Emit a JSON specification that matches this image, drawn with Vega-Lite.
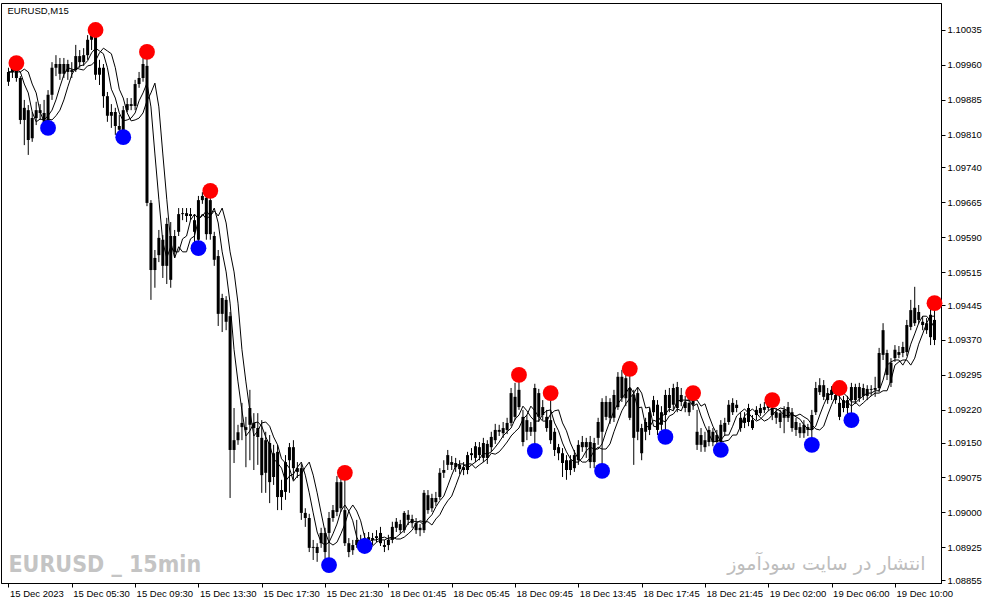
{
"$schema":"https://vega.github.io/schema/vega-lite/v6.json",
"width":940,"height":580,
"autosize":{"type":"none"},
"padding":{"left":1,"top":3,"right":46,"bottom":22},
"background":"white",
"config":{"view":{"stroke":"black","strokeWidth":1},"axis":{"grid":false,"domainColor":"black","tickColor":"black","labelColor":"black","labelFont":"Liberation Sans","labelFontSize":9.5,"tickSize":4,"tickWidth":1,"domainWidth":1,"title":null,"labelOverlap":false,"labelSeparation":0,"labelBound":false,"labelFlush":false}},
"datasets":{
"bars":[
{"i":0,"o":1.09924,"h":1.09954,"l":1.09915,"c":1.09945,"m1":1.09945,"m2":1.09945},
{"i":1,"o":1.09945,"h":1.09960,"l":1.09932,"c":1.09958,"m1":1.09945,"m2":1.09945},
{"i":2,"o":1.09958,"h":1.09964,"l":1.09924,"c":1.09932,"m1":1.09951,"m2":1.09945},
{"i":3,"o":1.09932,"h":1.09936,"l":1.09833,"c":1.09842,"m1":1.09945,"m2":1.09945},
{"i":4,"o":1.09842,"h":1.09885,"l":1.09788,"c":1.09868,"m1":1.09919,"m2":1.09951},
{"i":5,"o":1.09863,"h":1.09874,"l":1.09767,"c":1.09799,"m1":1.09900,"m2":1.09945},
{"i":6,"o":1.09803,"h":1.09859,"l":1.09795,"c":1.09846,"m1":1.09859,"m2":1.09919},
{"i":7,"o":1.09846,"h":1.09881,"l":1.09831,"c":1.09863,"m1":1.09838,"m2":1.09900},
{"i":8,"o":1.09863,"h":1.09876,"l":1.09842,"c":1.09857,"m1":1.09844,"m2":1.09859},
{"i":9,"o":1.09857,"h":1.09885,"l":1.09829,"c":1.09838,"m1":1.09842,"m2":1.09838},
{"i":10,"o":1.09838,"h":1.09906,"l":1.09825,"c":1.09896,"m1":1.09851,"m2":1.09844},
{"i":11,"o":1.09896,"h":1.09966,"l":1.09885,"c":1.09954,"m1":1.09863,"m2":1.09842},
{"i":12,"o":1.09954,"h":1.09981,"l":1.09936,"c":1.09962,"m1":1.09885,"m2":1.09851},
{"i":13,"o":1.09962,"h":1.09975,"l":1.09928,"c":1.09941,"m1":1.09913,"m2":1.09863},
{"i":14,"o":1.09941,"h":1.09975,"l":1.09932,"c":1.09962,"m1":1.09939,"m2":1.09885},
{"i":15,"o":1.09962,"h":1.09971,"l":1.09928,"c":1.09945,"m1":1.09954,"m2":1.09913},
{"i":16,"o":1.09945,"h":1.09966,"l":1.09932,"c":1.09949,"m1":1.09951,"m2":1.09939},
{"i":17,"o":1.09949,"h":1.10003,"l":1.09945,"c":1.09979,"m1":1.09949,"m2":1.09954},
{"i":18,"o":1.09979,"h":1.09992,"l":1.09954,"c":1.09966,"m1":1.09958,"m2":1.09951},
{"i":19,"o":1.09966,"h":1.09996,"l":1.09958,"c":1.09981,"m1":1.09960,"m2":1.09949},
{"i":20,"o":1.09981,"h":1.10024,"l":1.09971,"c":1.10014,"m1":1.09969,"m2":1.09958},
{"i":21,"o":1.10014,"h":1.10031,"l":1.09992,"c":1.10026,"m1":1.09986,"m2":1.09960},
{"i":22,"o":1.10024,"h":1.10035,"l":1.09928,"c":1.09939,"m1":1.09996,"m2":1.09969},
{"i":23,"o":1.09939,"h":1.09971,"l":1.09917,"c":1.09954,"m1":1.09990,"m2":1.09986},
{"i":24,"o":1.09954,"h":1.09962,"l":1.09868,"c":1.09893,"m1":1.09984,"m2":1.09996},
{"i":25,"o":1.09893,"h":1.09902,"l":1.09838,"c":1.09851,"m1":1.09954,"m2":1.09990},
{"i":26,"o":1.09851,"h":1.09876,"l":1.09825,"c":1.09859,"m1":1.09908,"m2":1.09984},
{"i":27,"o":1.09859,"h":1.09868,"l":1.09810,"c":1.09829,"m1":1.09889,"m2":1.09954},
{"i":28,"o":1.09829,"h":1.09853,"l":1.09812,"c":1.09821,"m1":1.09857,"m2":1.09908},
{"i":29,"o":1.09816,"h":1.09872,"l":1.09805,"c":1.09863,"m1":1.09840,"m2":1.09889},
{"i":30,"o":1.09863,"h":1.09889,"l":1.09859,"c":1.09876,"m1":1.09842,"m2":1.09857},
{"i":31,"o":1.09876,"h":1.09889,"l":1.09863,"c":1.09872,"m1":1.09846,"m2":1.09840},
{"i":32,"o":1.09872,"h":1.09928,"l":1.09863,"c":1.09919,"m1":1.09857,"m2":1.09842},
{"i":33,"o":1.09919,"h":1.09945,"l":1.09911,"c":1.09932,"m1":1.09883,"m2":1.09846},
{"i":34,"o":1.09932,"h":1.09975,"l":1.09924,"c":1.09962,"m1":1.09900,"m2":1.09857},
{"i":35,"o":1.09958,"h":1.09988,"l":1.09657,"c":1.09664,"m1":1.09921,"m2":1.09883},
{"i":36,"o":1.09664,"h":1.09670,"l":1.09456,"c":1.09520,"m1":1.09870,"m2":1.09900},
{"i":37,"o":1.09520,"h":1.09563,"l":1.09482,"c":1.09546,"m1":1.09769,"m2":1.09921},
{"i":38,"o":1.09552,"h":1.09606,"l":1.09537,"c":1.09589,"m1":1.09672,"m2":1.09870},
{"i":39,"o":1.09585,"h":1.09595,"l":1.09503,"c":1.09529,"m1":1.09580,"m2":1.09769},
{"i":40,"o":1.09529,"h":1.09632,"l":1.09490,"c":1.09619,"m1":1.09546,"m2":1.09672},
{"i":41,"o":1.09593,"h":1.09623,"l":1.09482,"c":1.09499,"m1":1.09570,"m2":1.09580},
{"i":42,"o":1.09559,"h":1.09606,"l":1.09546,"c":1.09593,"m1":1.09559,"m2":1.09546},
{"i":43,"o":1.09602,"h":1.09653,"l":1.09593,"c":1.09640,"m1":1.09559,"m2":1.09570},
{"i":44,"o":1.09640,"h":1.09653,"l":1.09627,"c":1.09642,"m1":1.09587,"m2":1.09559},
{"i":45,"o":1.09642,"h":1.09653,"l":1.09623,"c":1.09636,"m1":1.09593,"m2":1.09559},
{"i":46,"o":1.09636,"h":1.09653,"l":1.09627,"c":1.09640,"m1":1.09627,"m2":1.09587},
{"i":47,"o":1.09627,"h":1.09640,"l":1.09580,"c":1.09602,"m1":1.09640,"m2":1.09593},
{"i":48,"o":1.09585,"h":1.09679,"l":1.09567,"c":1.09670,"m1":1.09630,"m2":1.09627},
{"i":49,"o":1.09670,"h":1.09687,"l":1.09662,"c":1.09679,"m1":1.09636,"m2":1.09640},
{"i":50,"o":1.09675,"h":1.09683,"l":1.09585,"c":1.09597,"m1":1.09647,"m2":1.09630},
{"i":51,"o":1.09597,"h":1.09690,"l":1.09585,"c":1.09670,"m1":1.09636,"m2":1.09636},
{"i":52,"o":1.09593,"h":1.09602,"l":1.09529,"c":1.09542,"m1":1.09653,"m2":1.09647},
{"i":53,"o":1.09550,"h":1.09563,"l":1.09400,"c":1.09426,"m1":1.09621,"m2":1.09636},
{"i":54,"o":1.09460,"h":1.09469,"l":1.09387,"c":1.09426,"m1":1.09559,"m2":1.09653},
{"i":55,"o":1.09456,"h":1.09464,"l":1.09391,"c":1.09409,"m1":1.09516,"m2":1.09621},
{"i":56,"o":1.09421,"h":1.09430,"l":1.09031,"c":1.09134,"m1":1.09449,"m2":1.09559},
{"i":57,"o":1.09134,"h":1.09224,"l":1.09106,"c":1.09155,"m1":1.09349,"m2":1.09516},
{"i":58,"o":1.09155,"h":1.09188,"l":1.09145,"c":1.09172,"m1":1.09280,"m2":1.09449},
{"i":59,"o":1.09183,"h":1.09235,"l":1.09155,"c":1.09192,"m1":1.09218,"m2":1.09349},
{"i":60,"o":1.09183,"h":1.09205,"l":1.09097,"c":1.09177,"m1":1.09164,"m2":1.09280},
{"i":61,"o":1.09188,"h":1.09263,"l":1.09112,"c":1.09224,"m1":1.09175,"m2":1.09218},
{"i":62,"o":1.09192,"h":1.09213,"l":1.09091,"c":1.09181,"m1":1.09192,"m2":1.09164},
{"i":63,"o":1.09181,"h":1.09213,"l":1.09102,"c":1.09162,"m1":1.09194,"m2":1.09175},
{"i":64,"o":1.09160,"h":1.09198,"l":1.09042,"c":1.09080,"m1":1.09185,"m2":1.09192},
{"i":65,"o":1.09085,"h":1.09173,"l":1.09042,"c":1.09155,"m1":1.09162,"m2":1.09194},
{"i":66,"o":1.09149,"h":1.09166,"l":1.09020,"c":1.09065,"m1":1.09145,"m2":1.09185},
{"i":67,"o":1.09076,"h":1.09145,"l":1.09059,"c":1.09127,"m1":1.09115,"m2":1.09162},
{"i":68,"o":1.09130,"h":1.09145,"l":1.09005,"c":1.09033,"m1":1.09106,"m2":1.09145},
{"i":69,"o":1.09033,"h":1.09070,"l":1.09005,"c":1.09048,"m1":1.09095,"m2":1.09115},
{"i":70,"o":1.09044,"h":1.09123,"l":1.09027,"c":1.09108,"m1":1.09067,"m2":1.09106},
{"i":71,"o":1.09112,"h":1.09149,"l":1.09042,"c":1.09140,"m1":1.09078,"m2":1.09095},
{"i":72,"o":1.09140,"h":1.09155,"l":1.09070,"c":1.09095,"m1":1.09082,"m2":1.09067},
{"i":73,"o":1.09095,"h":1.09108,"l":1.09074,"c":1.09087,"m1":1.09097,"m2":1.09078},
{"i":74,"o":1.09095,"h":1.09104,"l":1.08984,"c":1.08999,"m1":1.09108,"m2":1.09082},
{"i":75,"o":1.08999,"h":1.09009,"l":1.08969,"c":1.08988,"m1":1.09080,"m2":1.09097},
{"i":76,"o":1.08988,"h":1.08997,"l":1.08915,"c":1.08924,"m1":1.09042,"m2":1.09108},
{"i":77,"o":1.08924,"h":1.08941,"l":1.08898,"c":1.08926,"m1":1.08999,"m2":1.09080},
{"i":78,"o":1.08926,"h":1.08934,"l":1.08894,"c":1.08913,"m1":1.08958,"m2":1.09042},
{"i":79,"o":1.08934,"h":1.08967,"l":1.08924,"c":1.08956,"m1":1.08936,"m2":1.08999},
{"i":80,"o":1.08915,"h":1.08967,"l":1.08898,"c":1.08956,"m1":1.08930,"m2":1.08958},
{"i":81,"o":1.08956,"h":1.09001,"l":1.08887,"c":1.08988,"m1":1.08936,"m2":1.08936},
{"i":82,"o":1.08988,"h":1.09016,"l":1.08980,"c":1.09005,"m1":1.08954,"m2":1.08930},
{"i":83,"o":1.09001,"h":1.09078,"l":1.08992,"c":1.09065,"m1":1.08975,"m2":1.08936},
{"i":84,"o":1.09065,"h":1.09074,"l":1.09001,"c":1.09009,"m1":1.09003,"m2":1.08954},
{"i":85,"o":1.09005,"h":1.09085,"l":1.08928,"c":1.08934,"m1":1.09016,"m2":1.08975},
{"i":86,"o":1.08934,"h":1.08945,"l":1.08904,"c":1.08915,"m1":1.09003,"m2":1.09003},
{"i":87,"o":1.08919,"h":1.08941,"l":1.08909,"c":1.08930,"m1":1.08982,"m2":1.09016},
{"i":88,"o":1.08930,"h":1.08984,"l":1.08924,"c":1.08941,"m1":1.08947,"m2":1.09003},
{"i":89,"o":1.08941,"h":1.08952,"l":1.08922,"c":1.08930,"m1":1.08930,"m2":1.08982},
{"i":90,"o":1.08930,"h":1.08956,"l":1.08928,"c":1.08945,"m1":1.08928,"m2":1.08947},
{"i":91,"o":1.08941,"h":1.08958,"l":1.08930,"c":1.08947,"m1":1.08936,"m2":1.08930},
{"i":92,"o":1.08945,"h":1.08956,"l":1.08930,"c":1.08941,"m1":1.08941,"m2":1.08928},
{"i":93,"o":1.08945,"h":1.08962,"l":1.08936,"c":1.08949,"m1":1.08941,"m2":1.08936},
{"i":94,"o":1.08934,"h":1.08969,"l":1.08928,"c":1.08956,"m1":1.08945,"m2":1.08941},
{"i":95,"o":1.08930,"h":1.08941,"l":1.08915,"c":1.08926,"m1":1.08947,"m2":1.08941},
{"i":96,"o":1.08930,"h":1.08952,"l":1.08919,"c":1.08941,"m1":1.08943,"m2":1.08945},
{"i":97,"o":1.08941,"h":1.08980,"l":1.08934,"c":1.08969,"m1":1.08943,"m2":1.08947},
{"i":98,"o":1.08967,"h":1.08988,"l":1.08958,"c":1.08980,"m1":1.08947,"m2":1.08943},
{"i":99,"o":1.08975,"h":1.08984,"l":1.08954,"c":1.08962,"m1":1.08954,"m2":1.08943},
{"i":100,"o":1.08962,"h":1.09003,"l":1.08956,"c":1.08999,"m1":1.08962,"m2":1.08947},
{"i":101,"o":1.08995,"h":1.09005,"l":1.08973,"c":1.08984,"m1":1.08977,"m2":1.08954},
{"i":102,"o":1.08986,"h":1.08995,"l":1.08967,"c":1.08977,"m1":1.08982,"m2":1.08962},
{"i":103,"o":1.08977,"h":1.08988,"l":1.08954,"c":1.08962,"m1":1.08980,"m2":1.08977},
{"i":104,"o":1.08962,"h":1.08975,"l":1.08949,"c":1.08967,"m1":1.08980,"m2":1.08982},
{"i":105,"o":1.08962,"h":1.09048,"l":1.08956,"c":1.09042,"m1":1.08973,"m2":1.08980},
{"i":106,"o":1.09037,"h":1.09048,"l":1.08997,"c":1.09005,"m1":1.08986,"m2":1.08980},
{"i":107,"o":1.09009,"h":1.09040,"l":1.09001,"c":1.09031,"m1":1.08995,"m2":1.08973},
{"i":108,"o":1.09031,"h":1.09044,"l":1.09014,"c":1.09022,"m1":1.09012,"m2":1.08986},
{"i":109,"o":1.09033,"h":1.09095,"l":1.09027,"c":1.09085,"m1":1.09025,"m2":1.08995},
{"i":110,"o":1.09085,"h":1.09112,"l":1.09074,"c":1.09091,"m1":1.09035,"m2":1.09012},
{"i":111,"o":1.09102,"h":1.09134,"l":1.09091,"c":1.09123,"m1":1.09057,"m2":1.09025},
{"i":112,"o":1.09108,"h":1.09121,"l":1.09091,"c":1.09102,"m1":1.09080,"m2":1.09035},
{"i":113,"o":1.09106,"h":1.09117,"l":1.09087,"c":1.09097,"m1":1.09100,"m2":1.09057},
{"i":114,"o":1.09102,"h":1.09112,"l":1.09082,"c":1.09093,"m1":1.09104,"m2":1.09080},
{"i":115,"o":1.09097,"h":1.09108,"l":1.09080,"c":1.09091,"m1":1.09104,"m2":1.09100},
{"i":116,"o":1.09091,"h":1.09130,"l":1.09082,"c":1.09123,"m1":1.09095,"m2":1.09104},
{"i":117,"o":1.09123,"h":1.09138,"l":1.09112,"c":1.09127,"m1":1.09102,"m2":1.09104},
{"i":118,"o":1.09142,"h":1.09151,"l":1.09108,"c":1.09117,"m1":1.09108,"m2":1.09095},
{"i":119,"o":1.09123,"h":1.09151,"l":1.09112,"c":1.09140,"m1":1.09115,"m2":1.09102},
{"i":120,"o":1.09149,"h":1.09160,"l":1.09108,"c":1.09117,"m1":1.09127,"m2":1.09108},
{"i":121,"o":1.09117,"h":1.09155,"l":1.09104,"c":1.09147,"m1":1.09125,"m2":1.09115},
{"i":122,"o":1.09140,"h":1.09173,"l":1.09130,"c":1.09162,"m1":1.09130,"m2":1.09127},
{"i":123,"o":1.09155,"h":1.09190,"l":1.09147,"c":1.09177,"m1":1.09140,"m2":1.09125},
{"i":124,"o":1.09177,"h":1.09188,"l":1.09164,"c":1.09173,"m1":1.09151,"m2":1.09130},
{"i":125,"o":1.09170,"h":1.09194,"l":1.09160,"c":1.09181,"m1":1.09164,"m2":1.09140},
{"i":126,"o":1.09177,"h":1.09203,"l":1.09168,"c":1.09192,"m1":1.09173,"m2":1.09151},
{"i":127,"o":1.09192,"h":1.09267,"l":1.09185,"c":1.09256,"m1":1.09181,"m2":1.09164},
{"i":128,"o":1.09248,"h":1.09278,"l":1.09198,"c":1.09205,"m1":1.09200,"m2":1.09173},
{"i":129,"o":1.09226,"h":1.09295,"l":1.09220,"c":1.09263,"m1":1.09209,"m2":1.09181},
{"i":130,"o":1.09205,"h":1.09220,"l":1.09142,"c":1.09151,"m1":1.09228,"m2":1.09200},
{"i":131,"o":1.09173,"h":1.09209,"l":1.09155,"c":1.09198,"m1":1.09218,"m2":1.09209},
{"i":132,"o":1.09183,"h":1.09194,"l":1.09164,"c":1.09173,"m1":1.09205,"m2":1.09228},
{"i":133,"o":1.09173,"h":1.09276,"l":1.09132,"c":1.09267,"m1":1.09196,"m2":1.09218},
{"i":134,"o":1.09256,"h":1.09265,"l":1.09194,"c":1.09205,"m1":1.09196,"m2":1.09205},
{"i":135,"o":1.09209,"h":1.09241,"l":1.09198,"c":1.09226,"m1":1.09211,"m2":1.09196},
{"i":136,"o":1.09205,"h":1.09220,"l":1.09173,"c":1.09181,"m1":1.09218,"m2":1.09196},
{"i":137,"o":1.09198,"h":1.09256,"l":1.09147,"c":1.09155,"m1":1.09220,"m2":1.09211},
{"i":138,"o":1.09173,"h":1.09181,"l":1.09121,"c":1.09134,"m1":1.09192,"m2":1.09218},
{"i":139,"o":1.09140,"h":1.09147,"l":1.09112,"c":1.09127,"m1":1.09175,"m2":1.09220},
{"i":140,"o":1.09127,"h":1.09138,"l":1.09076,"c":1.09106,"m1":1.09149,"m2":1.09192},
{"i":141,"o":1.09112,"h":1.09123,"l":1.09070,"c":1.09091,"m1":1.09130,"m2":1.09175},
{"i":142,"o":1.09091,"h":1.09123,"l":1.09080,"c":1.09112,"m1":1.09115,"m2":1.09149},
{"i":143,"o":1.09095,"h":1.09134,"l":1.09087,"c":1.09123,"m1":1.09108,"m2":1.09130},
{"i":144,"o":1.09112,"h":1.09155,"l":1.09102,"c":1.09145,"m1":1.09108,"m2":1.09115},
{"i":145,"o":1.09140,"h":1.09164,"l":1.09130,"c":1.09151,"m1":1.09117,"m2":1.09108},
{"i":146,"o":1.09151,"h":1.09160,"l":1.09117,"c":1.09140,"m1":1.09132,"m2":1.09108},
{"i":147,"o":1.09151,"h":1.09164,"l":1.09095,"c":1.09108,"m1":1.09140,"m2":1.09117},
{"i":148,"o":1.09108,"h":1.09160,"l":1.09095,"c":1.09149,"m1":1.09136,"m2":1.09132},
{"i":149,"o":1.09160,"h":1.09203,"l":1.09145,"c":1.09194,"m1":1.09136,"m2":1.09140},
{"i":150,"o":1.09173,"h":1.09245,"l":1.09089,"c":1.09237,"m1":1.09147,"m2":1.09136},
{"i":151,"o":1.09237,"h":1.09250,"l":1.09198,"c":1.09205,"m1":1.09173,"m2":1.09136},
{"i":152,"o":1.09203,"h":1.09245,"l":1.09190,"c":1.09237,"m1":1.09196,"m2":1.09147},
{"i":153,"o":1.09203,"h":1.09263,"l":1.09194,"c":1.09252,"m1":1.09218,"m2":1.09173},
{"i":154,"o":1.09226,"h":1.09301,"l":1.09220,"c":1.09291,"m1":1.09233,"m2":1.09196},
{"i":155,"o":1.09291,"h":1.09306,"l":1.09237,"c":1.09245,"m1":1.09245,"m2":1.09218},
{"i":156,"o":1.09245,"h":1.09301,"l":1.09228,"c":1.09288,"m1":1.09256,"m2":1.09233},
{"i":157,"o":1.09267,"h":1.09308,"l":1.09198,"c":1.09203,"m1":1.09269,"m2":1.09245},
{"i":158,"o":1.09252,"h":1.09263,"l":1.09102,"c":1.09160,"m1":1.09256,"m2":1.09256},
{"i":159,"o":1.09173,"h":1.09267,"l":1.09155,"c":1.09256,"m1":1.09224,"m2":1.09269},
{"i":160,"o":1.09181,"h":1.09190,"l":1.09112,"c":1.09127,"m1":1.09226,"m2":1.09256},
{"i":161,"o":1.09173,"h":1.09203,"l":1.09155,"c":1.09194,"m1":1.09185,"m2":1.09224},
{"i":162,"o":1.09177,"h":1.09224,"l":1.09166,"c":1.09215,"m1":1.09183,"m2":1.09226},
{"i":163,"o":1.09215,"h":1.09250,"l":1.09207,"c":1.09241,"m1":1.09198,"m2":1.09185},
{"i":164,"o":1.09231,"h":1.09241,"l":1.09166,"c":1.09177,"m1":1.09194,"m2":1.09183},
{"i":165,"o":1.09188,"h":1.09228,"l":1.09177,"c":1.09215,"m1":1.09207,"m2":1.09198},
{"i":166,"o":1.09209,"h":1.09263,"l":1.09162,"c":1.09252,"m1":1.09211,"m2":1.09194},
{"i":167,"o":1.09252,"h":1.09267,"l":1.09215,"c":1.09224,"m1":1.09222,"m2":1.09207},
{"i":168,"o":1.09231,"h":1.09276,"l":1.09220,"c":1.09267,"m1":1.09218,"m2":1.09211},
{"i":169,"o":1.09269,"h":1.09280,"l":1.09215,"c":1.09224,"m1":1.09239,"m2":1.09222},
{"i":170,"o":1.09237,"h":1.09267,"l":1.09228,"c":1.09252,"m1":1.09241,"m2":1.09218},
{"i":171,"o":1.09237,"h":1.09250,"l":1.09215,"c":1.09224,"m1":1.09241,"m2":1.09239},
{"i":172,"o":1.09235,"h":1.09245,"l":1.09207,"c":1.09215,"m1":1.09241,"m2":1.09241},
{"i":173,"o":1.09231,"h":1.09256,"l":1.09220,"c":1.09241,"m1":1.09228,"m2":1.09241},
{"i":174,"o":1.09173,"h":1.09220,"l":1.09134,"c":1.09145,"m1":1.09233,"m2":1.09241},
{"i":175,"o":1.09166,"h":1.09181,"l":1.09130,"c":1.09145,"m1":1.09207,"m2":1.09228},
{"i":176,"o":1.09155,"h":1.09173,"l":1.09130,"c":1.09140,"m1":1.09185,"m2":1.09233},
{"i":177,"o":1.09151,"h":1.09185,"l":1.09142,"c":1.09177,"m1":1.09168,"m2":1.09207},
{"i":178,"o":1.09173,"h":1.09181,"l":1.09142,"c":1.09151,"m1":1.09151,"m2":1.09185},
{"i":179,"o":1.09166,"h":1.09177,"l":1.09142,"c":1.09151,"m1":1.09153,"m2":1.09168},
{"i":180,"o":1.09151,"h":1.09198,"l":1.09134,"c":1.09188,"m1":1.09155,"m2":1.09151},
{"i":181,"o":1.09192,"h":1.09203,"l":1.09164,"c":1.09173,"m1":1.09166,"m2":1.09153},
{"i":182,"o":1.09194,"h":1.09241,"l":1.09188,"c":1.09231,"m1":1.09166,"m2":1.09155},
{"i":183,"o":1.09215,"h":1.09245,"l":1.09209,"c":1.09235,"m1":1.09185,"m2":1.09166},
{"i":184,"o":1.09231,"h":1.09241,"l":1.09215,"c":1.09224,"m1":1.09207,"m2":1.09166},
{"i":185,"o":1.09181,"h":1.09215,"l":1.09173,"c":1.09203,"m1":1.09215,"m2":1.09185},
{"i":186,"o":1.09203,"h":1.09215,"l":1.09181,"c":1.09192,"m1":1.09222,"m2":1.09207},
{"i":187,"o":1.09224,"h":1.09233,"l":1.09185,"c":1.09194,"m1":1.09213,"m2":1.09215},
{"i":188,"o":1.09181,"h":1.09209,"l":1.09177,"c":1.09198,"m1":1.09203,"m2":1.09222},
{"i":189,"o":1.09209,"h":1.09228,"l":1.09198,"c":1.09220,"m1":1.09196,"m2":1.09213},
{"i":190,"o":1.09213,"h":1.09233,"l":1.09207,"c":1.09224,"m1":1.09200,"m2":1.09203},
{"i":191,"o":1.09220,"h":1.09237,"l":1.09213,"c":1.09226,"m1":1.09209,"m2":1.09196},
{"i":192,"o":1.09224,"h":1.09237,"l":1.09218,"c":1.09231,"m1":1.09218,"m2":1.09200},
{"i":193,"o":1.09224,"h":1.09241,"l":1.09198,"c":1.09209,"m1":1.09224,"m2":1.09209},
{"i":194,"o":1.09215,"h":1.09224,"l":1.09190,"c":1.09203,"m1":1.09222,"m2":1.09218},
{"i":195,"o":1.09213,"h":1.09220,"l":1.09181,"c":1.09194,"m1":1.09218,"m2":1.09224},
{"i":196,"o":1.09203,"h":1.09228,"l":1.09170,"c":1.09220,"m1":1.09209,"m2":1.09222},
{"i":197,"o":1.09203,"h":1.09237,"l":1.09194,"c":1.09226,"m1":1.09207,"m2":1.09218},
{"i":198,"o":1.09215,"h":1.09224,"l":1.09173,"c":1.09181,"m1":1.09211,"m2":1.09209},
{"i":199,"o":1.09194,"h":1.09203,"l":1.09164,"c":1.09177,"m1":1.09205,"m2":1.09207},
{"i":200,"o":1.09183,"h":1.09192,"l":1.09160,"c":1.09170,"m1":1.09200,"m2":1.09211},
{"i":201,"o":1.09170,"h":1.09198,"l":1.09160,"c":1.09188,"m1":1.09188,"m2":1.09205},
{"i":202,"o":1.09183,"h":1.09190,"l":1.09164,"c":1.09177,"m1":1.09179,"m2":1.09200},
{"i":203,"o":1.09177,"h":1.09220,"l":1.09145,"c":1.09209,"m1":1.09177,"m2":1.09188},
{"i":204,"o":1.09215,"h":1.09280,"l":1.09209,"c":1.09267,"m1":1.09185,"m2":1.09179},
{"i":205,"o":1.09258,"h":1.09288,"l":1.09252,"c":1.09273,"m1":1.09209,"m2":1.09177},
{"i":206,"o":1.09273,"h":1.09284,"l":1.09241,"c":1.09248,"m1":1.09231,"m2":1.09185},
{"i":207,"o":1.09256,"h":1.09267,"l":1.09233,"c":1.09241,"m1":1.09250,"m2":1.09209},
{"i":208,"o":1.09252,"h":1.09271,"l":1.09241,"c":1.09263,"m1":1.09256,"m2":1.09231},
{"i":209,"o":1.09252,"h":1.09263,"l":1.09233,"c":1.09241,"m1":1.09256,"m2":1.09250},
{"i":210,"o":1.09235,"h":1.09267,"l":1.09198,"c":1.09205,"m1":1.09248,"m2":1.09256},
{"i":211,"o":1.09224,"h":1.09250,"l":1.09215,"c":1.09241,"m1":1.09237,"m2":1.09256},
{"i":212,"o":1.09241,"h":1.09250,"l":1.09207,"c":1.09224,"m1":1.09237,"m2":1.09248},
{"i":213,"o":1.09241,"h":1.09278,"l":1.09198,"c":1.09269,"m1":1.09228,"m2":1.09237},
{"i":214,"o":1.09269,"h":1.09276,"l":1.09233,"c":1.09241,"m1":1.09235,"m2":1.09237},
{"i":215,"o":1.09245,"h":1.09278,"l":1.09237,"c":1.09269,"m1":1.09243,"m2":1.09228},
{"i":216,"o":1.09267,"h":1.09276,"l":1.09241,"c":1.09250,"m1":1.09250,"m2":1.09235},
{"i":217,"o":1.09250,"h":1.09273,"l":1.09241,"c":1.09265,"m1":1.09256,"m2":1.09243},
{"i":218,"o":1.09265,"h":1.09273,"l":1.09250,"c":1.09263,"m1":1.09256,"m2":1.09250},
{"i":219,"o":1.09263,"h":1.09291,"l":1.09248,"c":1.09267,"m1":1.09261,"m2":1.09256},
{"i":220,"o":1.09267,"h":1.09353,"l":1.09258,"c":1.09342,"m1":1.09261,"m2":1.09256},
{"i":221,"o":1.09338,"h":1.09406,"l":1.09327,"c":1.09391,"m1":1.09284,"m2":1.09261},
{"i":222,"o":1.09342,"h":1.09349,"l":1.09284,"c":1.09295,"m1":1.09316,"m2":1.09261},
{"i":223,"o":1.09321,"h":1.09331,"l":1.09269,"c":1.09278,"m1":1.09323,"m2":1.09284},
{"i":224,"o":1.09331,"h":1.09359,"l":1.09323,"c":1.09349,"m1":1.09327,"m2":1.09316},
{"i":225,"o":1.09338,"h":1.09357,"l":1.09331,"c":1.09344,"m1":1.09327,"m2":1.09323},
{"i":226,"o":1.09342,"h":1.09366,"l":1.09333,"c":1.09355,"m1":1.09316,"m2":1.09327},
{"i":227,"o":1.09344,"h":1.09413,"l":1.09336,"c":1.09402,"m1":1.09331,"m2":1.09327},
{"i":228,"o":1.09398,"h":1.09456,"l":1.09391,"c":1.09434,"m1":1.09361,"m2":1.09316},
{"i":229,"o":1.09406,"h":1.09484,"l":1.09400,"c":1.09439,"m1":1.09383,"m2":1.09331},
{"i":230,"o":1.09430,"h":1.09445,"l":1.09404,"c":1.09413,"m1":1.09406,"m2":1.09361},
{"i":231,"o":1.09409,"h":1.09421,"l":1.09391,"c":1.09402,"m1":1.09421,"m2":1.09383},
{"i":232,"o":1.09406,"h":1.09417,"l":1.09383,"c":1.09391,"m1":1.09421,"m2":1.09406},
{"i":233,"o":1.09424,"h":1.09445,"l":1.09359,"c":1.09376,"m1":1.09411,"m2":1.09421},
{"i":234,"o":1.09370,"h":1.09449,"l":1.09359,"c":1.09413,"m1":1.09396,"m2":1.09421}
],
"dots":[
{"i":2,"p":1.09964,"t":"H"},{"i":22,"p":1.10035,"t":"H"},{"i":35,"p":1.09988,"t":"H"},{"i":51,"p":1.09690,"t":"H"},
{"i":85,"p":1.09085,"t":"H"},{"i":129,"p":1.09295,"t":"H"},{"i":137,"p":1.09256,"t":"H"},{"i":157,"p":1.09308,"t":"H"},
{"i":173,"p":1.09256,"t":"H"},{"i":193,"p":1.09241,"t":"H"},{"i":210,"p":1.09267,"t":"H"},{"i":234,"p":1.09449,"t":"H"},
{"i":10,"p":1.09825,"t":"L"},{"i":29,"p":1.09805,"t":"L"},{"i":48,"p":1.09567,"t":"L"},{"i":81,"p":1.08887,"t":"L"},
{"i":90,"p":1.08928,"t":"L"},{"i":133,"p":1.09132,"t":"L"},{"i":150,"p":1.09089,"t":"L"},{"i":166,"p":1.09162,"t":"L"},
{"i":180,"p":1.09134,"t":"L"},{"i":203,"p":1.09145,"t":"L"},{"i":213,"p":1.09198,"t":"L"}
]
},
"layer":[
{"data":{"values":[{}]},
 "mark":{"type":"text","text":"EURUSD _ 15min","font":"DejaVu Sans Condensed","fontWeight":"bold","fontSize":23,"color":"#c4c4c4","align":"left","baseline":"middle"},
 "encoding":{"x":{"datum":0,"type":"quantitative","scale":{"domain":[-0.625,234.375],"nice":false,"zero":false},
   "axis":{"orient":"bottom","values":[0,16,32,48,64,80,96,112,128,144,160,176,192,208,224],"tickCount":40,"labelAlign":"left","labelPadding":1,"labelOffset":1,"labelBound":false,"labelOverlap":false,"labelFlush":false,
   "labelExpr":"['15 Dec 2023','15 Dec 05:30','15 Dec 09:30','15 Dec 13:30','15 Dec 17:30','15 Dec 21:30','18 Dec 01:45','18 Dec 05:45','18 Dec 09:45','18 Dec 13:45','18 Dec 17:45','18 Dec 21:45','19 Dec 02:00','19 Dec 06:00','19 Dec 10:00'][round(datum.value/16)]"}},
  "y":{"datum":1.08887,"type":"quantitative","scale":{"domain":[1.088486,1.100929],"nice":false,"zero":false},
   "axis":{"orient":"right","values":[1.10035,1.0996,1.09885,1.0981,1.0974,1.09665,1.0959,1.09515,1.09445,1.0937,1.09295,1.0922,1.0915,1.09075,1.09,1.08925,1.08855],"tickCount":40,"format":".5f","labelPadding":2,"labelOverlap":false,"labelBound":false,"labelFlush":false}}}},
{"data":{"values":[{}]},
 "mark":{"type":"text","text":"انتشار در سایت سودآموز","font":"DejaVu Sans","fontSize":19,"color":"#bdbdbd","align":"right","baseline":"middle"},
 "encoding":{"x":{"datum":231.75,"type":"quantitative"},"y":{"datum":1.08889,"type":"quantitative"}}},
{"data":{"name":"bars"},"mark":{"type":"line","color":"black","strokeWidth":1},"encoding":{"x":{"field":"i","type":"quantitative"},"y":{"field":"m1","type":"quantitative"}}},
{"data":{"name":"bars"},"mark":{"type":"line","color":"black","strokeWidth":1},"encoding":{"x":{"field":"i","type":"quantitative"},"y":{"field":"m2","type":"quantitative"}}},
{"data":{"name":"bars"},"mark":{"type":"rule","color":"black","strokeWidth":1},"encoding":{"x":{"field":"i","type":"quantitative"},"y":{"field":"l","type":"quantitative"},"y2":{"field":"h"}}},
{"data":{"name":"bars"},"mark":{"type":"bar","size":3,"color":"black"},"encoding":{"x":{"field":"i","type":"quantitative"},"y":{"field":"o","type":"quantitative"},"y2":{"field":"c"}}},
{"data":{"name":"dots"},"mark":{"type":"circle","size":250,"opacity":1},"encoding":{"x":{"field":"i","type":"quantitative"},"y":{"field":"p","type":"quantitative"},
 "color":{"field":"t","type":"nominal","scale":{"domain":["H","L"],"range":["#ff0000","#0000ff"]},"legend":null}}},
{"data":{"values":[{}]},
 "mark":{"type":"text","text":"EURUSD,M15","font":"Liberation Sans","fontSize":9.5,"color":"black","align":"left","baseline":"middle"},
 "encoding":{"x":{"datum":-0.25,"type":"quantitative"},"y":{"datum":1.10076,"type":"quantitative"}}}
]
}
